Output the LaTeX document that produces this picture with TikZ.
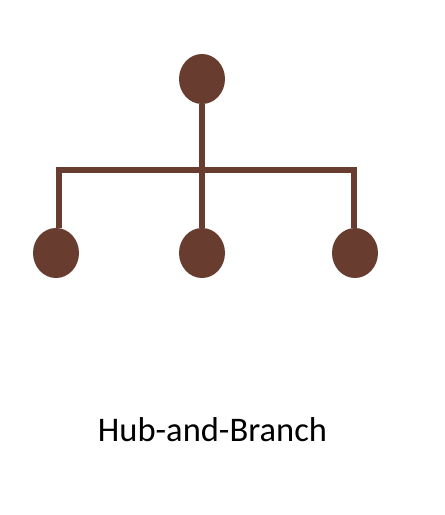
\documentclass[tikz,border=0pt]{standalone}
\usepackage{fontspec}
\setmainfont{Carlito}
\usetikzlibrary{shapes.geometric}
\definecolor{branchbrown}{RGB}{104,61,48}

\begin{document}
\begin{tikzpicture}[x=1pt,y=1pt,
    dot/.style={ellipse,fill=branchbrown,draw=none,inner sep=0pt,minimum width=46pt,minimum height=50pt},
    branchline/.style={draw=branchbrown,line width=6pt,line join=miter}]
            \useasboundingbox (0,0) rectangle (445,515);

            % the hub and its branches
            \node[dot] (hub) at (202,436) {};
            \node[dot] (leftbranch) at (56,262) {};
            \node[dot] (midbranch) at (202,262) {};
            \node[dot] (rightbranch) at (355,262) {};

            % the bar
            \coordinate (bar) at (202,345);
            \draw[branchline] (hub) -- (midbranch);
            \draw[branchline] (leftbranch.north -| 58.5,0) -- (58.5,345) -- (353.5,345) -- (rightbranch.north -| 353.5,0);

            % text at the bottom
            \node[anchor=base,font=\fontsize{34.5}{40}\selectfont] (caption) at (212.5,73) {Hub-and-Branch};
\end{tikzpicture}
\end{document}
